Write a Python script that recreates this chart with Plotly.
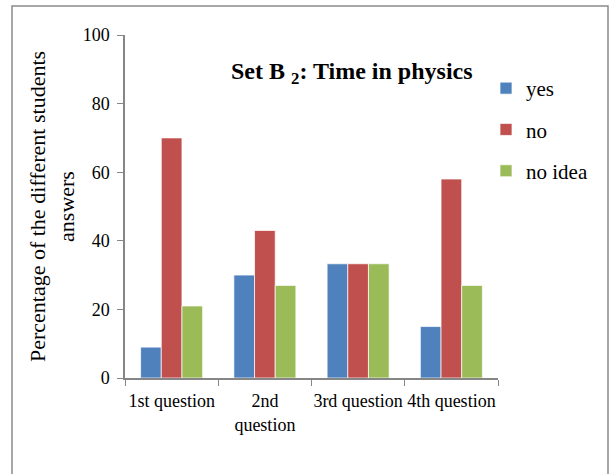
import plotly.graph_objects as go

categories = ["1st question", "2nd question", "3rd question", "4th question"]
tick_labels = ["1st question", "2nd<br>question", "3rd question", "4th question"]
yes_vals = [9, 30, 33.3, 15]
no_vals = [70, 43, 33.3, 58]
noidea_vals = [21, 27, 33.3, 27]
series_names = ["yes", "no", "no idea"]
colors = ["#4F81BD", "#C0504D", "#9BBB59"]

W, H = 612, 474
ML, MR, MT, MB = 125, 114, 35, 96
PW, PH = W - ML - MR, H - MT - MB

def px_to_paper_x(px):
    return (px - ML) / PW

def px_to_paper_y(py):
    return 1 - (py - MT) / PH

FONT = "Liberation Serif"

fig = go.Figure()
for name, vals, col in zip(series_names, [yes_vals, no_vals, noidea_vals], colors):
    fig.add_trace(go.Bar(
        x=categories, y=vals, name=name, legendgroup=name,
        marker=dict(color=col, line=dict(color="rgba(255,255,255,0.7)", width=1)),
    ))

fig.update_layout(
    width=W, height=H,
    margin=dict(l=ML, r=MR, t=MT, b=MB, autoexpand=False),
    paper_bgcolor="white", plot_bgcolor="white",
    barmode="group", bargap=0.335, bargroupgap=0,
    font=dict(family=FONT, size=18, color="black"),
    showlegend=True,
    legend=dict(
        x=px_to_paper_x(486), xanchor="left",
        y=px_to_paper_y(68), yanchor="top",
        font=dict(family=FONT, size=21, color="black"),
        tracegroupgap=11, bgcolor="rgba(0,0,0,0)",
    ),
    xaxis=dict(
        tickvals=categories, ticktext=tick_labels, tickangle=0,
        tickson="boundaries", ticks="outside", ticklen=6, tickcolor="#868686",
        showline=True, linecolor="#868686", linewidth=1.5,
        tickfont=dict(family=FONT, size=18, color="black"),
        ticklabelstandoff=6,
        showgrid=False,
    ),
    yaxis=dict(
        range=[0, 100], dtick=20, ticks="outside", ticklen=6, tickcolor="#868686",
        showline=True, linecolor="#868686", linewidth=1.5, showgrid=False, zeroline=False,
        tickfont=dict(family=FONT, size=18, color="black"),
        ticklabelstandoff=4,
        title=dict(text="Percentage of the different students<br>answers",
                   font=dict(family=FONT, size=22, color="black"), standoff=2),
    ),
)

fig.add_annotation(
    text="<b>Set B <sub>2</sub>: Time in physics</b>",
    xref="paper", yref="paper",
    x=px_to_paper_x(352), y=px_to_paper_y(73),
    xanchor="center", yanchor="middle", showarrow=False,
    font=dict(family=FONT, size=24, color="black"),
)

fig.add_shape(
    type="rect", xref="paper", yref="paper",
    x0=px_to_paper_x(12), x1=px_to_paper_x(608),
    y0=px_to_paper_y(490), y1=px_to_paper_y(6),
    line=dict(color="#8a8a8a", width=1.5), fillcolor="rgba(0,0,0,0)", layer="below",
)

fig.write_html("out.html")
